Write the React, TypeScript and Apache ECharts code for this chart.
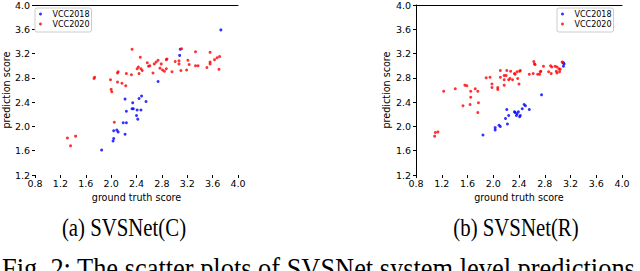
import React, { useEffect, useRef } from "react";
import * as echarts from "echarts";

const xTicks = [0.8, 1.2, 1.6, 2.0, 2.4, 2.8, 3.2, 3.6, 4.0];
const yTicks = [1.2, 1.6, 2.0, 2.4, 2.8, 3.2, 3.6, 4.0];
const seriesNames = ["VCC2018", "VCC2020"];
const captions = ["(a) SVSNet(C)", "(b) SVSNet(R)"];
const figCaption = "Fig. 2: The scatter plots of SVSNet system level predictions";

// SVSNet(C)
const leftVcc2018 = [
  [3.73, 3.59], [3.09, 3.27], [3.08, 3.17], [2.74, 2.74], [2.48, 2.5], [2.44, 2.46],
  [2.55, 2.41], [2.22, 2.45], [2.34, 2.39], [2.33, 2.29], [2.35, 2.29], [2.41, 2.27],
  [2.47, 2.27], [2.24, 2.25], [2.4, 2.18], [2.42, 2.12], [2.19, 2.06], [2.24, 2.06],
  [2.09, 1.94], [2.11, 1.91], [2.04, 1.93], [2.22, 1.87], [2.04, 1.8], [2.03, 1.76],
  [1.85, 1.61],
];
const leftVcc2020 = [
  [1.31, 1.81], [1.44, 1.84], [1.36, 1.68], [1.74, 2.81], [1.73, 2.79], [1.99, 2.77],
  [2.0, 2.61], [2.01, 2.57], [2.05, 2.07], [2.11, 2.9], [2.1, 2.88], [2.1, 2.73],
  [2.17, 2.71], [2.23, 2.67], [2.24, 2.87], [2.32, 2.85], [2.33, 3.27], [2.41, 2.95],
  [2.43, 2.98], [2.47, 2.95], [2.49, 2.92], [2.44, 2.87], [2.46, 3.14], [2.57, 3.05],
  [2.61, 3.0], [2.59, 2.99], [2.66, 2.88], [2.68, 3.03], [2.71, 3.06], [2.74, 3.09],
  [2.77, 2.96], [2.79, 3.03], [2.81, 2.93], [2.84, 2.91], [2.87, 2.95], [2.87, 3.1],
  [2.88, 3.11], [2.96, 2.9], [3.01, 3.07], [3.07, 3.08], [3.07, 3.03], [3.1, 2.92],
  [3.11, 3.28], [3.19, 2.93], [3.21, 3.09], [3.23, 3.02], [3.33, 3.23], [3.33, 3.0],
  [3.37, 3.0], [3.51, 2.97], [3.56, 3.22], [3.56, 3.06], [3.56, 3.03], [3.63, 3.1],
  [3.67, 3.13], [3.71, 3.15], [3.7, 2.94],
];

// SVSNet(R)
const rightVcc2018 = [
  [3.09, 3.05], [3.1, 3.03], [3.09, 2.99], [2.75, 2.52], [2.48, 2.36], [2.5, 2.34],
  [2.56, 2.28], [2.45, 2.29], [2.39, 2.24], [2.34, 2.23], [2.33, 2.24], [2.42, 2.18],
  [2.41, 2.16], [2.36, 2.18], [2.37, 2.21], [2.21, 2.28], [2.24, 2.18], [2.19, 2.13],
  [2.22, 2.04], [2.09, 2.02], [2.11, 2.0], [2.03, 1.98], [2.03, 1.94], [1.84, 1.86],
];
const rightVcc2020 = [
  [1.1, 1.9], [1.14, 1.91], [1.09, 1.84], [1.23, 2.58], [1.41, 2.62], [1.56, 2.68],
  [1.59, 2.67], [1.65, 2.58], [1.65, 2.48], [1.72, 2.62], [1.76, 2.58], [1.77, 2.39],
  [1.53, 2.34], [1.64, 2.36], [1.76, 2.23], [1.89, 2.8], [1.95, 2.81], [1.98, 2.7],
  [1.98, 2.64], [2.07, 2.64], [2.07, 2.61], [2.11, 2.92], [2.11, 2.81], [2.17, 2.84],
  [2.2, 2.84], [2.17, 2.77], [2.17, 2.68], [2.21, 2.92], [2.24, 2.77], [2.26, 2.79],
  [2.27, 2.91], [2.3, 2.77], [2.33, 2.87], [2.34, 2.86], [2.37, 2.9], [2.38, 2.79],
  [2.4, 2.7], [2.41, 2.91], [2.42, 2.92], [2.56, 2.86], [2.62, 2.87], [2.63, 3.07],
  [2.64, 3.03], [2.65, 3.02], [2.69, 2.86], [2.72, 2.86], [2.73, 2.9], [2.74, 2.91],
  [2.78, 2.99], [2.86, 2.9], [2.9, 2.87], [2.89, 3.0], [2.91, 2.98], [2.96, 2.99],
  [2.99, 2.98], [3.02, 2.95], [3.04, 2.94], [2.98, 2.91], [2.99, 2.88], [3.03, 2.9],
  [3.07, 3.06], [3.08, 3.05],
];

const BLUE = "#0000ff";
const RED = "#ff0000";
const AXIS_FONT = "DejaVu Sans";
const SERIF = "Liberation Serif, Times New Roman, serif";

export default function App() {
  const ref = useRef<HTMLDivElement>(null);

  useEffect(() => {
    document.body.style.margin = "0";
    if (!ref.current) return;
    const chart = echarts.init(ref.current, undefined, { renderer: "svg" });

    const grids = [
      { left: 31, top: 4, width: 207, height: 171 },
      { left: 416, top: 4, width: 206, height: 171 },
    ];

    const bottomX = (gi: number) => ({
      type: "value",
      gridIndex: gi,
      position: "bottom",
      min: xTicks[0],
      max: xTicks[xTicks.length - 1],
      interval: 0.4,
      name: "ground truth score",
      nameLocation: "middle",
      nameGap: 13,
      nameTextStyle: { fontFamily: AXIS_FONT, fontSize: 9.6, color: "#000" },
      axisLine: { show: false, onZero: false },
      axisTick: { show: true, length: 3, lineStyle: { color: "#000", width: 1 } },
      axisLabel: {
        fontFamily: AXIS_FONT,
        fontSize: 9.5,
        color: "#000",
        margin: 3,
        formatter: (v: number) => v.toFixed(1),
      },
      splitLine: { show: false },
    });
    const topX = (gi: number) => ({
      type: "value",
      gridIndex: gi,
      position: "top",
      min: xTicks[0],
      max: xTicks[xTicks.length - 1],
      interval: 0.4,
      axisLine: { show: true, onZero: false, lineStyle: { color: "#000", width: 1 } },
      axisTick: { show: false },
      axisLabel: { show: false },
      splitLine: { show: false },
    });
    const leftY = (gi: number, showLine: boolean) => ({
      type: "value",
      gridIndex: gi,
      position: "left",
      min: yTicks[0],
      max: yTicks[yTicks.length - 1],
      interval: 0.4,
      name: "prediction score",
      nameLocation: "middle",
      nameGap: 19,
      nameTextStyle: { fontFamily: AXIS_FONT, fontSize: 9.6, color: "#000" },
      axisLine: { show: showLine, onZero: false, lineStyle: { color: "#000", width: 1 } },
      axisTick: { show: true, length: 3, lineStyle: { color: "#000", width: 1 } },
      axisLabel: {
        fontFamily: AXIS_FONT,
        fontSize: 9.5,
        color: "#000",
        margin: 5,
        formatter: (v: number) => v.toFixed(1),
      },
      splitLine: { show: false },
    });

    const legend = (left: number) => ({
      orient: "vertical",
      left,
      top: 8,
      padding: [2, 2, 4, 4],
      itemWidth: 14,
      itemHeight: 3,
      itemGap: 2,
      icon: "circle",
      borderColor: "#cccccc",
      borderWidth: 1,
      borderRadius: 2,
      backgroundColor: "#ffffff",
      selectedMode: false,
      textStyle: { fontFamily: AXIS_FONT, fontSize: 8, lineHeight: 8, color: "#000" },
      data: seriesNames,
    });

    const scatter = (name: string, data: number[][], xi: number, yi: number, color: string) => ({
      type: "scatter",
      name,
      data,
      xAxisIndex: xi,
      yAxisIndex: yi,
      symbol: "circle",
      symbolSize: 3,
      itemStyle: { color },
      emphasis: { disabled: true },
    });

    chart.setOption({
      animation: false,
      backgroundColor: "#ffffff",
      grid: grids,
      xAxis: [bottomX(0), topX(0), bottomX(1), topX(1)],
      yAxis: [leftY(0, false), leftY(1, true)],
      legend: [legend(35), legend(557)],
      series: [
        scatter(seriesNames[0], leftVcc2018, 0, 0, BLUE),
        scatter(seriesNames[1], leftVcc2020, 0, 0, RED),
        scatter(seriesNames[0], rightVcc2018, 2, 1, BLUE),
        scatter(seriesNames[1], rightVcc2020, 2, 1, RED),
      ],
      graphic: [
        {
          type: "text",
          x: 124,
          y: 227,
          scaleX: 0.8,
          style: {
            text: captions[0],
            fontFamily: SERIF,
            fontSize: 26,
            fill: "#000",
            align: "center",
            verticalAlign: "middle",
          },
        },
        {
          type: "text",
          x: 516,
          y: 227,
          scaleX: 0.8,
          style: {
            text: captions[1],
            fontFamily: SERIF,
            fontSize: 26,
            fill: "#000",
            align: "center",
            verticalAlign: "middle",
          },
        },
        {
          type: "text",
          x: 2,
          y: 268,
          scaleX: 0.88,
          style: {
            text: figCaption,
            fontFamily: SERIF,
            fontSize: 30,
            fill: "#000",
            align: "left",
            verticalAlign: "middle",
          },
        },
      ],
    });

    return () => chart.dispose();
  }, []);

  return <div ref={ref} style={{ width: 640, height: 271 }} />;
}
